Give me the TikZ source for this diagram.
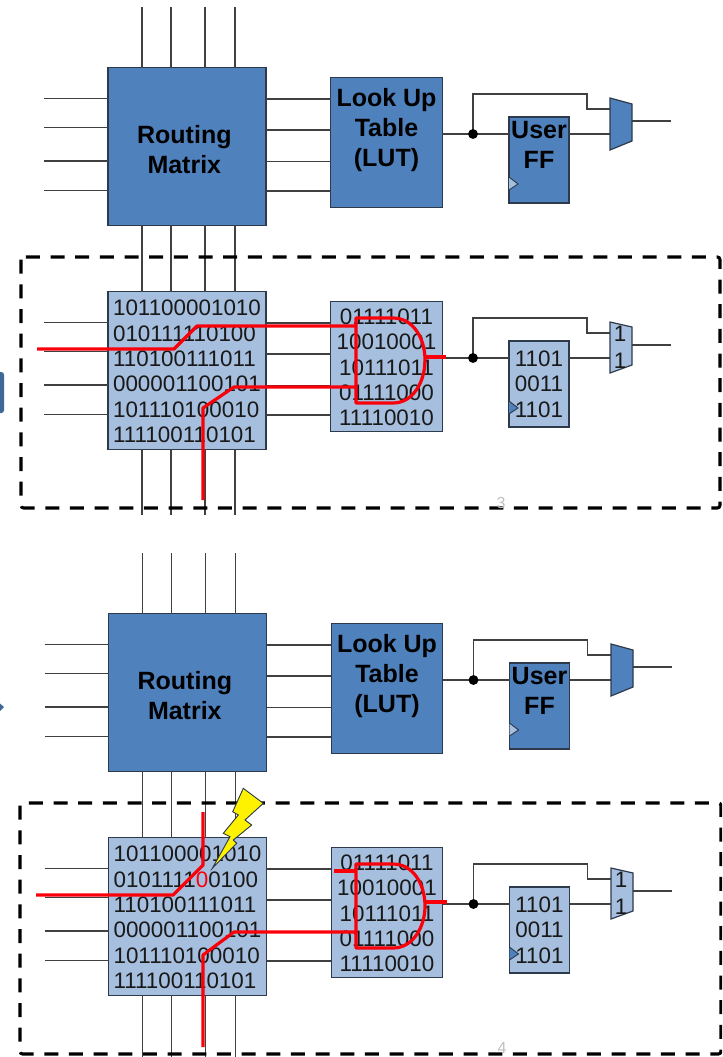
\documentclass[tikz,border=0pt]{standalone}
\usepackage{fontspec}
\setmainfont{Liberation Sans}
\usepackage{tikz}
\definecolor{CellBlue}{RGB}{79, 129, 189}
\definecolor{CellLight}{RGB}{167, 191, 222}
\definecolor{WireGray}{RGB}{64, 64, 64}
\definecolor{EdgeDark}{RGB}{45, 58, 75}
\definecolor{TabBlue}{RGB}{63, 103, 151}
\definecolor{FaultRed}{RGB}{250, 0, 10}

\tikzset{
  wire/.style={WireGray, line width=1pt},
  faultwire/.style={FaultRed, line width=2.4pt, line join=round},
  cell/.style={draw=EdgeDark, line width=0.9pt, inner sep=0pt, outer sep=0pt, align=center},
  bluecell/.style={cell, fill=CellBlue, font=\fontsize{18.75}{22.5}\selectfont\bfseries},
  bitcell/.style={cell, fill=CellLight, text=black!90, font=\fontsize{16.8}{19}\selectfont},
  matrixbox/.style={minimum width=118.5pt, minimum height=118pt},
  lutbox/.style={minimum width=83.5pt, minimum height=97pt},
  ffbox/.style={minimum width=45pt, minimum height=64.5pt},
  muxbody/.style={draw=EdgeDark, line width=0.9pt},
  dashbox/.style={black, line width=2.3pt, dash pattern=on 10.5pt off 8pt, rounded corners=2pt},
  bitlabel/.style={text=black!90, inner sep=0pt, font=\fontsize{16.8}{19}\selectfont},
  pagelabel/.style={gray!50, inner sep=0pt, font=\fontsize{12}{13}\selectfont}
}

\newcommand{\routingtext}{\rule{0pt}{17.7pt}\hspace*{-4pt}Routing\\\hspace*{-4pt}Matrix}
\newcommand{\lookuptext}{Look Up\\Table\\(LUT)\\ }
\newcommand{\usertext}{User\\FF\\ }
\newcommand{\lutbits}{\rule{0pt}{13.2pt}01111011\\10010001\\10111011\\01111000\\11110010}
\newcommand{\ffbits}{1101\\0011\\1101}
\newcommand{\matrixbits}[1]{\raisebox{-7pt}[50pt][50pt]{\begin{tabular}{@{}l@{}}101100001010\\#1\\110100111011\\000001100101\\101110100010\\111100110101\end{tabular}}}

% one logic cell: prefix, x shift, y shift, cell style, clock fill,
% matrix text, LUT text, FF text
\newcommand{\logiccell}[8]{
  \begin{scope}[shift={(#2,#3)}]
    % Wires up and down
    \foreach \k/\vx in {a/142,b/171,c/205,d/235} {
      \coordinate (#1top\k) at (\vx,7);
      \coordinate (#1bot\k) at (\vx,291);
    }
    % Blocks
    \node[#4, matrixbox] (#1rm) at (187,146.5) {#6};
    \node[#4, lutbox] (#1lut) at (386.5,142.5) {#7};
    \node[#4, ffbox] (#1ff) at (539,160) {#8};
    \foreach \k in {a,b,c,d} {
      \draw[wire] (#1top\k) -- (#1top\k |- #1rm.north);
      \draw[wire] (#1rm.south -| #1bot\k) -- (#1bot\k);
    }
    \foreach \k/\vy in {a/98.5,b/127.5,c/161,d/190.5} {
      \coordinate (#1in\k) at (44,\vy);
      \draw[wire] (#1in\k) -- (#1in\k -| #1rm.west);
    }
    \foreach \k/\vy in {a/99,b/130,c/161.5,d/191} {
      \coordinate (#1out\k) at (300,\vy);
      \draw[wire] (#1out\k -| #1rm.east) -- (#1out\k -| #1lut.west);
    }
    % Clock mark
    \filldraw[draw=EdgeDark, fill=#5, line width=0.7pt] (509,177) -- (518,184) -- (509,190);
    % Mux
    \coordinate (#1muxa) at (610,109);
    \coordinate (#1muxb) at (610,134);
    \coordinate (#1muxo) at (632,121);
    \coordinate (#1end) at (671,121);
    \coordinate (#1dot) at (473,134);
    \coordinate (#1jog) at (587,94);
    % Wires of the output stage
    \draw[wire] (#1lut.east |- #1dot) -- (#1ff.west |- #1dot);
    \draw[wire] (#1ff.east |- #1muxb) -- (#1muxb);
    \draw[wire] (#1dot) -- (#1dot |- #1jog) -- (#1jog) -- (#1jog |- #1muxa) -- (#1muxa);
    \draw[wire] (#1muxo) -- (#1end);
    \fill[black] (#1dot) circle (3.7pt);
  \end{scope}
}

\begin{document}
\begin{tikzpicture}[x=0.75pt, y=-0.75pt]
  \useasboundingbox (0,0) rectangle (722,1057);
  \clip (0,0) rectangle (722,1057);

  % Side tabs
  \fill[TabBlue, rounded corners=2pt] (-6,372) rectangle (4,413);
  \fill[TabBlue] (-4,700) -- (4,707) -- (-4,715) -- cycle;

  % Cells
  \logiccell{p}{0}{0}{bluecell}{CellLight}{\routingtext}{\lookuptext}{\usertext}
  \logiccell{q}{0}{224}{bitcell}{CellBlue}{\matrixbits{010111110100}}{\lutbits}{\ffbits}
  \logiccell{r}{0.5}{546}{bluecell}{CellLight}{\routingtext}{\lookuptext}{\usertext}
  \logiccell{s}{0.5}{770}{bitcell}{CellBlue}{\matrixbits{0101111\textcolor{FaultRed}{0}0100}}{\lutbits}{\ffbits}

  % Mux bodies
  \filldraw[muxbody, fill=CellBlue] (610,98) -- (632,104) -- (632,141) -- (610,150) -- cycle;
  \filldraw[muxbody, fill=CellLight] (610,322) -- (632,327) -- (632,365) -- (610,373) -- cycle;
  \filldraw[muxbody, fill=CellBlue] (611,644) -- (633,650) -- (633,687) -- (611,696) -- cycle;
  \filldraw[muxbody, fill=CellLight] (611,868) -- (633,873) -- (633,911) -- (611,919) -- cycle;
  \node[bitlabel] (qmuxone) at (620,334) {1};
  \node[bitlabel] (qmuxtwo) at (620,361) {1};
  \node[bitlabel] (smuxone) at (621,880) {1};
  \node[bitlabel] (smuxtwo) at (621,907) {1};

  % Dashed frames
  \draw[dashbox] (21,257) rectangle (720,508);
  \draw[dashbox] (20,803) rectangle (721,1054);

  % Page numbers
  \node[pagelabel] (pagea) at (501,503) {3};
  \node[pagelabel] (pageb) at (502,1048) {4};

  % Configured path, upper frame
  \draw[faultwire] (37,349) -- (174,349) -- (197,326) -- (356,326);
  \draw[faultwire] (203,500) -- (203,408) -- (234,387) -- (356,387);
  \draw[faultwire] (356,318) -- (393,318) .. controls (413,318) and (425,338) .. (425,360)
    .. controls (425,382) and (413,403) .. (393,403) -- (356,403) -- cycle;
  \draw[faultwire] (425,357) -- (446,357);

  % Upset path, lower frame
  \draw[faultwire] (36,895) -- (173,895) -- (203,865) -- (203,812);
  \draw[faultwire] (203,1047) -- (203,955) -- (234,932) -- (356,932);
  \draw[faultwire] (334,871) -- (356,871);
  \draw[faultwire] (356,864) -- (393,864) .. controls (413,864) and (425,884) .. (425,906)
    .. controls (425,927) and (413,948) .. (393,948) -- (356,948) -- cycle;
  \draw[faultwire] (425,902) -- (447,902);

  % Lightning
  \filldraw[draw=EdgeDark, fill=yellow, line width=0.7pt] (243.3,788.3) -- (263.3,803.3) -- (245,820) -- (251.7,825)
    -- (233.3,840) -- (236.7,843.3) -- (212.3,868.3) -- (230,836.7) -- (223.3,833.3) -- (238.3,815) -- (232.7,811.7) -- cycle;
\end{tikzpicture}
\end{document}
